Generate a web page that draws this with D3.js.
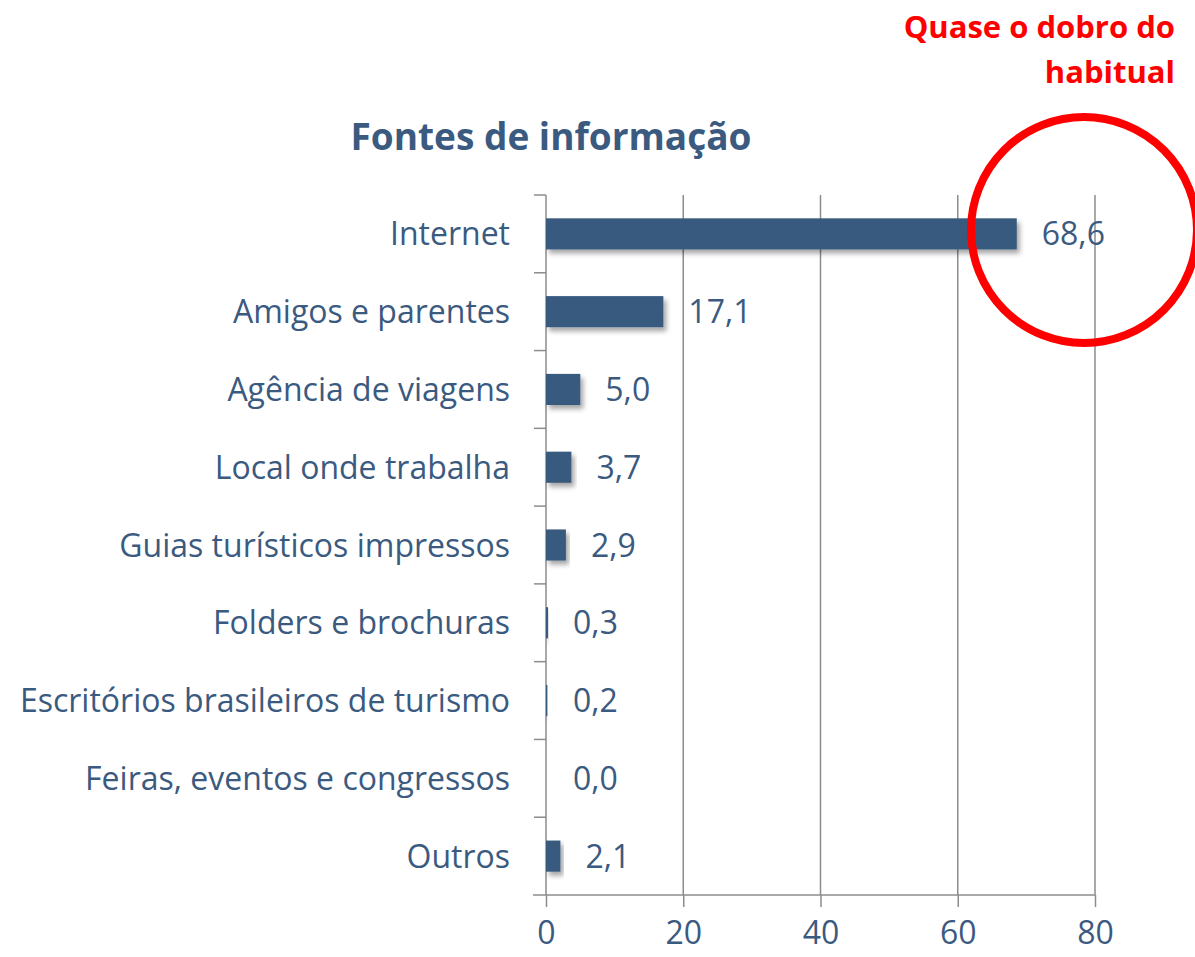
<!DOCTYPE html>
<html><head><meta charset="utf-8">
<script src="https://cdn.jsdelivr.net/npm/d3@7"></script>
<style>body{margin:0;background:#fff}svg{display:block}</style>
</head><body>
<svg id="c" width="1195" height="957"></svg>
<script>
const categories = ["Internet","Amigos e parentes","Agência de viagens","Local onde trabalha","Guias turísticos impressos","Folders e brochuras","Escritórios brasileiros de turismo","Feiras, eventos e congressos","Outros"];
const values = [68.6,17.1,5.0,3.7,2.9,0.3,0.2,0.0,2.1];
const labels = ["68,6","17,1","5,0","3,7","2,9","0,3","0,2","0,0","2,1"];
const xTicks = [0,20,40,60,80];
const title = "Fontes de informação";
const note = ["Quase o dobro do","habitual"];

const FONT = "'Open Sans', Lato, sans-serif";
const textCol = "#3b5a7f", barCol = "#375a7e", gridCol = "#8c8c8c";
const svg = d3.select("#c");
const defs = svg.append("defs");
const f = defs.append("filter").attr("id","sh").attr("x","-20%").attr("y","-30%").attr("width","140%").attr("height","190%");
f.append("feDropShadow").attr("dx",3).attr("dy",4).attr("stdDeviation",2.5).attr("flood-color","#000").attr("flood-opacity",0.35);

const x = d3.scaleLinear().domain([0,80]).range([546,1095]);
const y = d3.scaleBand().domain(categories).range([195,895]).paddingInner(0.6).paddingOuter(0.3);

// grid
svg.append("g").selectAll("line").data(xTicks.slice(1)).join("line")
  .attr("x1",d=>x(d)).attr("x2",d=>x(d)).attr("y1",195).attr("y2",895)
  .attr("stroke",gridCol).attr("stroke-width",1.5);

// x axis
const xa = svg.append("g").attr("transform","translate(0,895)")
  .call(d3.axisBottom(x).tickValues(xTicks).tickSize(12).tickSizeOuter(0).tickPadding(14));
xa.select(".domain").remove();
xa.selectAll(".tick line").attr("stroke",gridCol).attr("stroke-width",1.5);
xa.selectAll(".tick text").attr("fill",textCol).style("font-family",FONT).style("font-size","32px");
svg.append("line").attr("x1",533).attr("x2",x(80)).attr("y1",895).attr("y2",895).attr("stroke",gridCol).attr("stroke-width",1.5);

// y axis
svg.append("line").attr("x1",546).attr("x2",546).attr("y1",195).attr("y2",895).attr("stroke",gridCol).attr("stroke-width",1.5);
const step = y.step(), off = (step - y.bandwidth())/2;
svg.append("g").selectAll("line").data(categories).join("line")
  .attr("x1",534).attr("x2",546).attr("y1",d=>y(d)-off).attr("y2",d=>y(d)-off)
  .attr("stroke",gridCol).attr("stroke-width",1.5);

// bars
svg.append("g").selectAll("rect").data(values).join("rect")
  .attr("x",x(0)).attr("y",(d,i)=>y(categories[i]))
  .attr("width",d=>Math.max(0,x(d)-x(0))).attr("height",y.bandwidth())
  .attr("fill",barCol).attr("filter","url(#sh)");

// value labels
svg.append("g").selectAll("text").data(values).join("text")
  .attr("x",(d,i)=>Math.max(x(d),x(0)+2)+25).attr("y",(d,i)=>y(categories[i])+y.bandwidth()/2)
  .attr("dy","0.36em").attr("fill",textCol).style("font-family",FONT).style("font-size","32px")
  .text((d,i)=>labels[i]);

// category labels
svg.append("g").selectAll("text").data(categories).join("text")
  .attr("x",510).attr("y",d=>y(d)+y.bandwidth()/2).attr("dy","0.36em")
  .attr("text-anchor","end").attr("fill",textCol).style("font-family",FONT).style("font-size","32px")
  .text(d=>d);

// title
svg.append("text").attr("x",551).attr("y",150).attr("text-anchor","middle")
  .attr("fill",textCol).style("font-family",FONT).style("font-weight","bold").style("font-size","37px").text(title);

// annotation
svg.append("g").selectAll("text").data(note).join("text")
  .attr("x",1175).attr("y",(d,i)=>38+i*45).attr("text-anchor","end")
  .attr("fill","#ff0000").style("font-family",FONT).style("font-weight","bold").style("font-size","31px").text(d=>d);
svg.append("circle").attr("cx",1084).attr("cy",230).attr("r",113).attr("fill","none").attr("stroke","#ff0000").attr("stroke-width",8);
</script>
</body></html>
